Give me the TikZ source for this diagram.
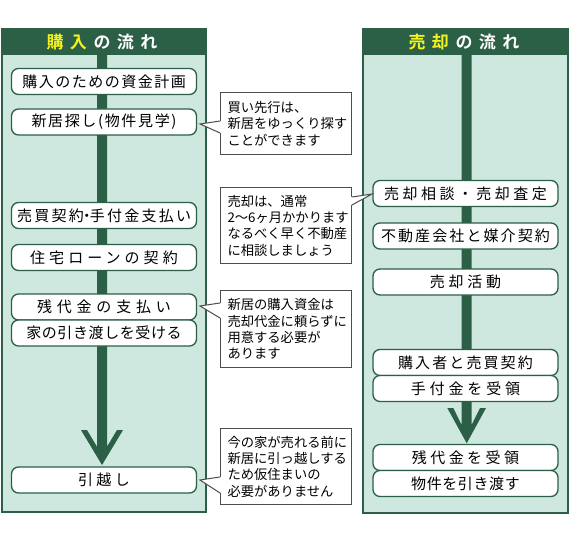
\documentclass[tikz,border=0pt]{standalone}
\usepackage{fontspec}
\setmainfont{Noto Sans CJK JP}
\newfontfamily\jpb{Noto Sans CJK JP Bold}
\usetikzlibrary{calc}
\definecolor{dkg}{HTML}{2B5F46}
\definecolor{ltg}{HTML}{CFE8DF}
\definecolor{hdy}{HTML}{F5F31E}
\definecolor{cgray}{HTML}{4D4D4D}
\newcommand\lsp[2]{{\addfontfeatures{LetterSpace=#1}#2}}
\newcommand\hg{\hspace{6.5pt}}
\tikzset{
  flowbox/.style={draw=dkg, line width=1.3pt, fill=white, rounded corners=7pt,
    minimum width=185pt, minimum height=26pt, inner sep=0pt,
    font=\fontsize{15}{18}\selectfont},
  callout/.style={anchor=north west, draw=cgray, line width=1pt, fill=white,
    minimum width=131pt, text width=117pt, inner xsep=7pt, inner ysep=0pt,
    align=left, font=\fontsize{13.3}{16.3}\selectfont},
  ptr/.style={draw=cgray, line width=1pt},
  hdr/.style={font=\jpb\fontsize{17}{20}\selectfont, text=white},
}
\begin{document}
\begin{tikzpicture}[x=1pt,y=-1pt]
\useasboundingbox[fill=white] (0,0) rectangle (570,540);

% ---------- left panel ----------
\fill[dkg] (1,28) rectangle (207,513);
\fill[ltg] (3,55) rectangle (205,511);
\node[hdr] (lh) at (102,42) {\textcolor{hdy}{購\hg 入}\hg の\hg 流\hg れ};
\fill[dkg] (97,54) -- (97,446.7) -- (87,430) -- (81,430) -- (102,465)
  -- (123,430) -- (117,430) -- (107,446.7) -- (107,54) -- cycle;

\node[flowbox] (l1) at (104,81.5) {\lsp{10}{購入のための資金計画}};
\node[flowbox] (l2) at (104,122) {\lsp{11}{新居探し(物件見学)}};
\node[flowbox] (l3) at (104,215.5) {\lsp{15}{売買契約\kern-4.5pt・\kern-4.5pt手付金支払い}};
\node[flowbox] (l4) at (104,257.5) {\lsp{27}{住宅ローンの契約}};
\node[flowbox] (l5) at (104,307) {\lsp{32}{残代金の支払い}};
\node[flowbox] (l6) at (104,333) {\lsp{4}{家の引き渡しを受ける}};
\node[flowbox] (l7) at (104,480) {\lsp{22}{引越し}};

% ---------- right panel ----------
\fill[dkg] (362,28) rectangle (569,514);
\fill[ltg] (364,55) rectangle (567,512);
\node[hdr] (rh) at (464,42) {\textcolor{hdy}{売\hg 却}\hg の\hg 流\hg れ};
\fill[dkg] (461.5,54) -- (461.5,424.7) -- (453.3,408) -- (447.3,408) -- (466.7,443.3)
  -- (486,408) -- (480,408) -- (471.7,424.7) -- (471.7,54) -- cycle;

\node[flowbox] (r1) at (465.5,193.5) {\lsp{23}{売却相談・売却査定}};
\node[flowbox] (r2) at (465.5,236) {\lsp{14}{不動産会社と媒介契約}};
\node[flowbox] (r3) at (465.5,282) {\lsp{25}{売却活動}};
\node[flowbox] (r4) at (465.5,362.5) {\lsp{14}{購入者と売買契約}};
\node[flowbox] (r5) at (465.5,388.5) {\lsp{26}{手付金を受領}};
\node[flowbox] (r6) at (465.5,457.5) {\lsp{23}{残代金を受領}};
\node[flowbox] (r7) at (465.5,483.5) {\lsp{4}{物件を引き渡す}};

% ---------- callouts ----------
\node[callout, minimum height=62pt] (c1) at (220,92)
  {買い先行は、\\新居をゆっくり探す\\ことができます};
\coordinate (t1) at (200,124);
\fill[white] ($(c1.north west)+(0.8,29)$) -- (t1) -- ($(c1.north west)+(0.8,41)$) -- cycle;
\draw[ptr] ($(c1.north west)+(0,29)$) -- (t1) -- ($(c1.north west)+(0,41)$);

\node[callout, minimum height=76pt] (c2) at (220,187)
  {売却は、通常\\2〜6ヶ月かかります\\なるべく早く不動産\\に相談しましょう};
\coordinate (t2) at (372,194);
\fill[white] ($(c2.north east)+(-0.8,10)$) -- (t2) -- ($(c2.north east)+(-0.8,18)$) -- cycle;
\draw[ptr] ($(c2.north east)+(0,10)$) -- (t2) -- ($(c2.north east)+(0,18)$);

\node[callout, minimum height=77pt] (c3) at (220,290)
  {新居の購入資金は\\売却代金に頼らずに\\用意する必要が\\あります};
\coordinate (t3) at (200,306);
\fill[white] ($(c3.north west)+(0.8,13)$) -- (t3) -- ($(c3.north west)+(0.8,28)$) -- cycle;
\draw[ptr] ($(c3.north west)+(0,13)$) -- (t3) -- ($(c3.north west)+(0,28)$);

\node[callout, minimum height=76pt] (c4) at (220,428)
  {今の家が売れる前に\\新居に引っ越しする\\ため仮住まいの\\必要がありません};
\coordinate (t4) at (200,480);
\fill[white] ($(c4.north west)+(0.8,49)$) -- (t4) -- ($(c4.north west)+(0.8,65)$) -- cycle;
\draw[ptr] ($(c4.north west)+(0,49)$) -- (t4) -- ($(c4.north west)+(0,65)$);
\end{tikzpicture}
\end{document}
